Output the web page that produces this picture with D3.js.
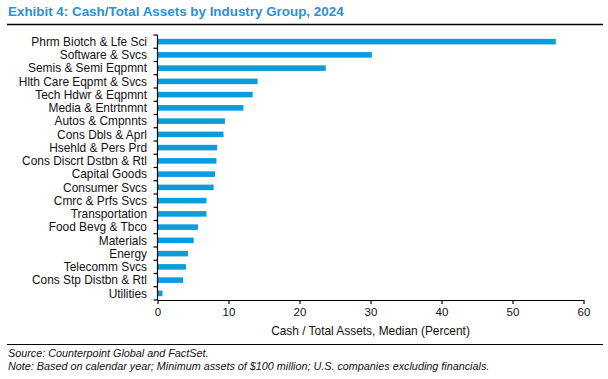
<!DOCTYPE html>
<html><head><meta charset="utf-8">
<script src="https://cdn.jsdelivr.net/npm/d3@7"></script>
<style>body{margin:0;background:#fff;font-family:"Liberation Sans",Arial,sans-serif;}</style>
</head><body><svg id="c" width="608" height="379"></svg>
<script>
const categories = ["Phrm Biotch & Lfe Sci","Software & Svcs","Semis & Semi Eqpmnt","Hlth Care Eqpmt & Svcs","Tech Hdwr & Eqpmnt","Media & Entrtnmnt","Autos & Cmpnnts","Cons Dbls & Aprl","Hsehld & Pers Prd","Cons Discrt Dstbn & Rtl","Capital Goods","Consumer Svcs","Cmrc & Prfs Svcs","Transportation","Food Bevg & Tbco","Materials","Energy","Telecomm Svcs","Cons Stp Distbn & Rtl","Utilities"];
const values = [56.1,30.2,23.7,14.1,13.4,12.1,9.5,9.3,8.4,8.3,8.1,7.9,6.9,6.9,5.7,5.1,4.3,4.0,3.6,0.7];
const xTicks = [0,10,20,30,40,50,60];
const title = "Exhibit 4: Cash/Total Assets by Industry Group, 2024";
const xTitle = "Cash / Total Assets, Median (Percent)";
const notes = ["Source: Counterpoint Global and FactSet.","Note: Based on calendar year; Minimum assets of $100 million; U.S. companies excluding financials."];

const svg = d3.select("#c");
const font = "Liberation Sans, Arial, sans-serif";
svg.append("text").attr("x",8).attr("y",16).attr("fill","#2e8fd0").attr("font-weight","bold")
  .attr("font-size",13.4).attr("font-family",font).text(title);
svg.append("line").attr("x1",7).attr("x2",603).attr("y1",24.5).attr("y2",24.5).attr("stroke","#000").attr("stroke-width",1.3);

const x = d3.scaleLinear().domain([0,60]).range([157.5,583.5]);
const y = d3.scaleBand().domain(categories).range([35,300]).paddingInner(0.58).paddingOuter(0.29);

svg.append("g").selectAll("rect").data(values).join("rect")
  .attr("x",x(0)).attr("y",(d,i)=>y(categories[i]))
  .attr("width",d=>x(d)-x(0)).attr("height",y.bandwidth()).attr("fill","#0a9cdc");

// y axis with ticks between categories
const yg = svg.append("g");
yg.append("line").attr("x1",x(0)).attr("x2",x(0)).attr("y1",35).attr("y2",300).attr("stroke","#000").attr("stroke-width",1.2);
d3.range(categories.length+1).forEach(i=>{
  const yy = 35 + i*(265/categories.length);
  yg.append("line").attr("x1",x(0)-4).attr("x2",x(0)).attr("y1",yy).attr("y2",yy).attr("stroke","#000").attr("stroke-width",1.2);
});
yg.selectAll("text").data(categories).join("text")
  .attr("x",147).attr("y",d=>y(d)+y.bandwidth()/2).attr("dy","0.35em")
  .attr("text-anchor","end").attr("font-size",11.9).attr("font-family",font).attr("fill","#111").text(d=>d);

// x axis
const xg = svg.append("g").attr("transform","translate(0,300)")
  .call(d3.axisBottom(x).tickValues(xTicks).tickSize(4).tickSizeOuter(0).tickPadding(4));
xg.select(".domain").attr("stroke-width",1.2);
xg.selectAll(".tick line").attr("stroke-width",1.2);
xg.selectAll("text").attr("font-size",11.5).attr("font-family",font).attr("fill","#111");

svg.append("text").attr("x",x(30)).attr("y",335).attr("text-anchor","middle").attr("font-size",11.9)
  .attr("font-family",font).attr("fill","#111").text(xTitle);

svg.append("line").attr("x1",7).attr("x2",603).attr("y1",344.5).attr("y2",344.5).attr("stroke","#000").attr("stroke-width",1.1);
svg.selectAll("text.note").data(notes).join("text").attr("class","note")
  .attr("x",8).attr("y",(d,i)=>357+i*12.5).attr("font-size",10.8).attr("font-style","italic")
  .attr("font-family",font).attr("fill","#111").text(d=>d);
</script></body></html>
